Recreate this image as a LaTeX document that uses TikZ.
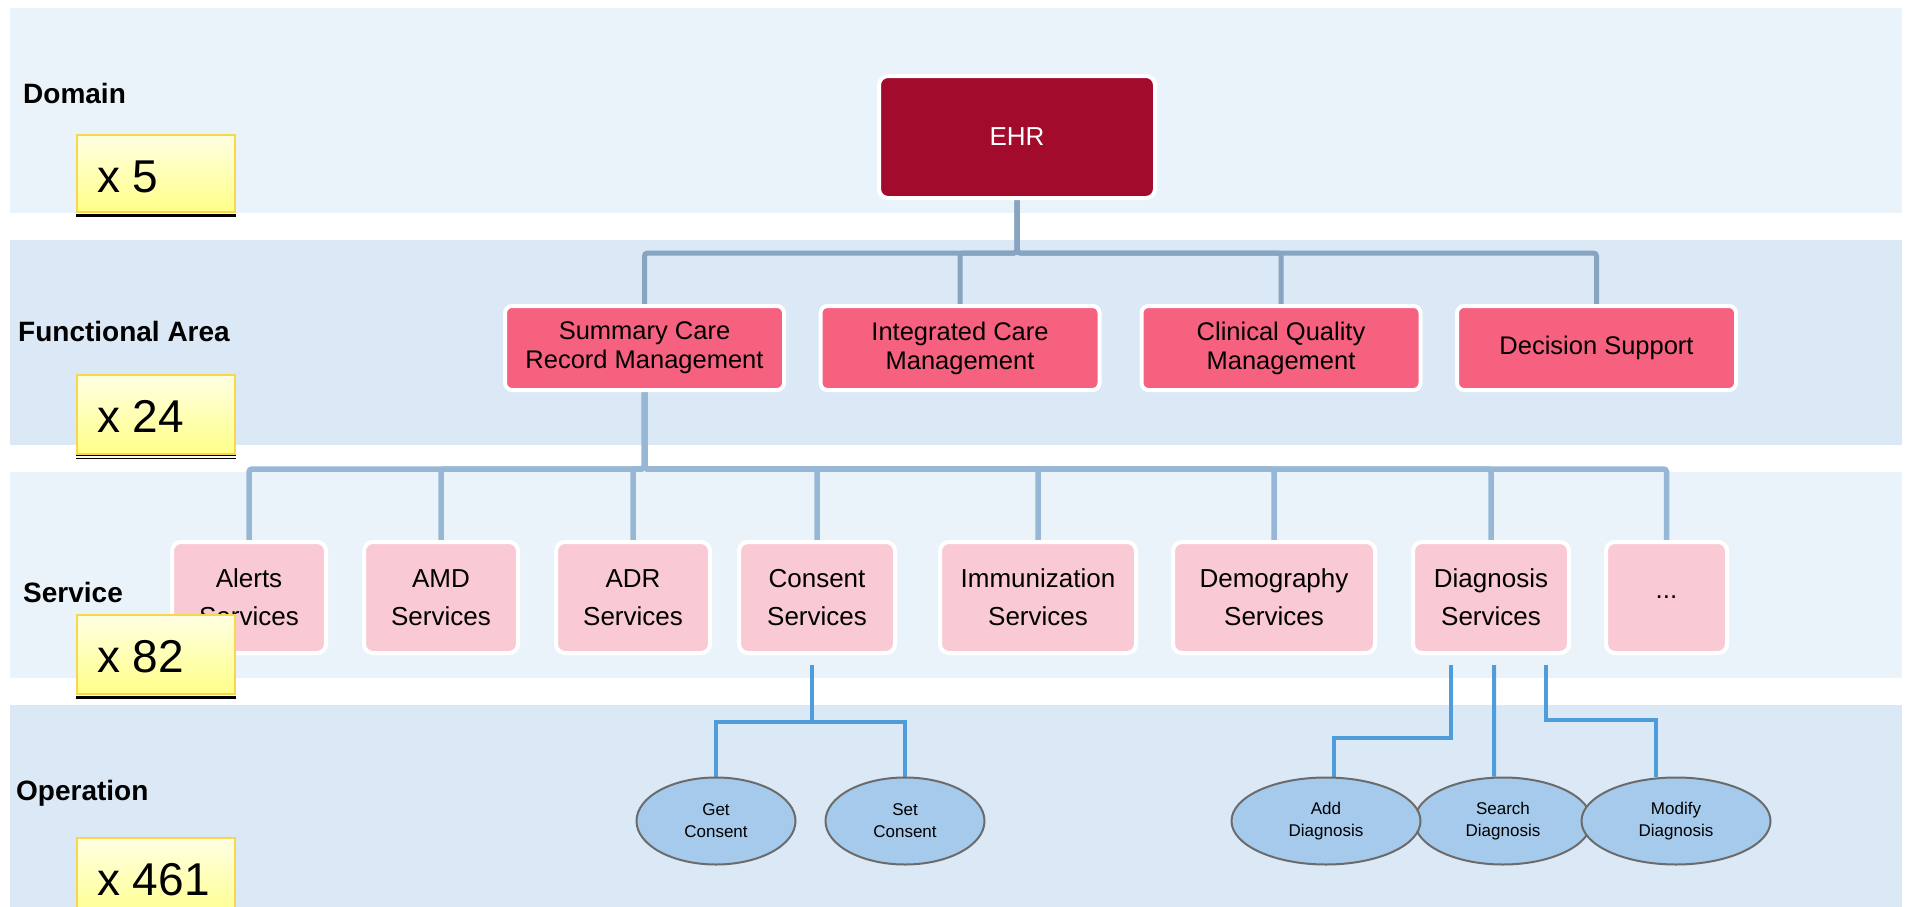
\documentclass[tikz,border=0pt]{standalone}
\usepackage{fontspec}
\setmainfont{Liberation Sans}
\usetikzlibrary{shapes.geometric,calc}

\definecolor{bandlight}{HTML}{EBF3FA}
\definecolor{banddark}{HTML}{DBE9F6}
\definecolor{ehrred}{HTML}{A30B2D}
\definecolor{areapink}{HTML}{F5617F}
\definecolor{servpink}{HTML}{F9C9D4}
\definecolor{opfill}{HTML}{A5CAEB}
\definecolor{opedge}{HTML}{6B6B6B}
\definecolor{busupper}{HTML}{87A4C0}
\definecolor{buslower}{HTML}{96B8D6}
\definecolor{opwire}{HTML}{4F9CDB}
\definecolor{notetop}{HTML}{FFFFE2}
\definecolor{notebottom}{HTML}{FFFF88}
\definecolor{notegold}{HTML}{F7D84C}

\pgfdeclarelayer{bands}
\pgfdeclarelayer{wires}
\pgfsetlayers{bands,wires,main}

\begin{document}
\begin{tikzpicture}[x=1bp,y=-1bp,
  ehrbox/.style={rectangle, rounded corners=9bp, fill=ehrred, draw=white,
    line width=4bp, minimum width=276bp, minimum height=122bp, inner sep=0pt,
    text=white, font=\fontsize{26bp}{30bp}\selectfont},
  areabox/.style={rectangle, rounded corners=7bp, fill=areapink, draw=white,
    line width=4bp, minimum width=279bp, minimum height=84bp, inner sep=0pt,
    align=center, font=\fontsize{25.5bp}{29bp}\selectfont},
  servbox/.style={rectangle, rounded corners=9bp, fill=servpink, draw=white,
    line width=4bp, minimum width=#1, minimum height=111bp, inner sep=0pt,
    align=center, font=\fontsize{26bp}{38bp}\selectfont},
  opnode/.style={ellipse, fill=opfill, draw=opedge, line width=2bp,
    minimum width=#1, minimum height=87bp, inner sep=0pt,
    align=center, font=\fontsize{17bp}{22bp}\selectfont},
  layerlabel/.style={anchor=base west, inner sep=0pt,
    font=\bfseries\fontsize{28bp}{30bp}\selectfont},
  countnote/.style={rectangle, draw=notegold, line width=2bp,
    top color=notetop, bottom color=notebottom,
    minimum width=158bp, minimum height=#1, inner sep=0pt},
  countnum/.style={anchor=base west, inner sep=0pt,
    font=\fontsize{46bp}{50bp}\selectfont},
  busA/.style={draw=busupper, line width=5bp, rounded corners=3bp},
  busB/.style={draw=buslower, line width=5.5bp, rounded corners=3bp},
  opconn/.style={draw=opwire, line width=4bp},
]
\useasboundingbox (0,0) rectangle (1907,907);

% layer bands
\begin{pgfonlayer}{bands}
\fill[white] (0,0) rectangle (1907,907);
\fill[bandlight] (10,8) rectangle (1902,213);
\fill[banddark] (10,240) rectangle (1902,445);
\fill[bandlight] (10,472) rectangle (1902,678);
\fill[banddark] (10,705) rectangle (1902,907);
\end{pgfonlayer}

% domain and functional areas
\node[ehrbox] (ehr) at (1017,137) {EHR};
\node[areabox] (scr) at (644.5,348) {Summary Care\\Record Management};
\node[areabox] (icm) at (960,348) {Integrated Care\\Management};
\node[areabox] (cqm) at (1281,348) {Clinical Quality\\Management};
\node[areabox] (dsu) at (1596.5,348) {Decision Support};

% services
\node[servbox=154bp] (alerts) at (249,597.5) {Alerts\\Services};
\node[servbox=154bp] (amd) at (441,597.5) {AMD\\Services};
\node[servbox=154bp] (adr) at (633,597.5) {ADR\\Services};
\node[servbox=156bp] (cons) at (817,597.5) {Consent\\Services};
\node[servbox=196bp] (imm) at (1038,597.5) {Immunization\\Services};
\node[servbox=202bp] (demo) at (1274,597.5) {Demography\\Services};
\node[servbox=156bp] (diag) at (1491,597.5) {Diagnosis\\Services};
\node[servbox=121bp] (more) at (1666.5,597.5) {...};

% operations (search first so its neighbours overlap it)
\node[opnode=177bp] (srch) at (1503,821) {Search\\Diagnosis};
\node[opnode=159bp] (getc) at (716,821) {Get\\Consent};
\node[opnode=159bp] (setc) at (905,821) {Set\\Consent};
\node[opnode=189bp] (addd) at (1326,821) {Add\\Diagnosis};
\node[opnode=189bp] (modd) at (1676,821) {Modify\\Diagnosis};

% connectors, beneath the boxes
\begin{pgfonlayer}{wires}
\foreach \c in {scr,icm,cqm,dsu}
  \path[busA] (ehr.south) -- ++(0,53) -| (\c.north);
\foreach \c in {alerts,amd,adr,cons,imm,demo,diag,more}
  \path[busB] (scr.south) -- ++(0,77) -| (\c.north);

\path[opconn] ([xshift=-5bp,yshift=-10bp]cons.south) -- ++(0,57) -| (getc.north);
\path[opconn] ([xshift=-5bp,yshift=-10bp]cons.south) -- ++(0,57) -| (setc.north);
\path[opconn] ([xshift=-40bp,yshift=-10bp]diag.south) -- ++(0,73) -| ([xshift=8bp]addd.north);
\path[opconn] ([xshift=3bp,yshift=-10bp]diag.south) -- ([xshift=-9bp]srch.north);
\path[opconn] ([xshift=55bp,yshift=-10bp]diag.south) -- ++(0,55) -| ([xshift=-20bp]modd.north);
\end{pgfonlayer}

% layer names
\node[layerlabel] (ldom) at (23,103) {Domain};
\node[layerlabel] (lfun) at (18,341) {Functional Area};
\node[layerlabel] (lser) at (23,602) {Service};
\node[layerlabel] (lop) at (16,800) {Operation};

% element counts
\node[countnote=77bp] (n5) at (156,173.5) {};
\draw[black, line width=3bp] (76,215.5) -- (236,215.5);
\node[countnum] (t5) at (97,192) {x 5};

\node[countnote=79bp] (n24) at (156,414.5) {};
\draw[black, line width=1bp] (76,455.5) -- (236,455.5);
\draw[black, line width=1bp] (76,458) -- (236,458);
\node[countnum] (t24) at (97,432) {x 24};

\node[countnote=79bp] (n82) at (156,654.5) {};
\draw[black, line width=3bp] (76,697) -- (236,697);
\node[countnum] (t82) at (97,672) {x 82};

\node[countnote=86bp] (n461) at (156,881) {};
\node[countnum] (t461) at (97,895) {x 461};
\end{tikzpicture}
\end{document}
